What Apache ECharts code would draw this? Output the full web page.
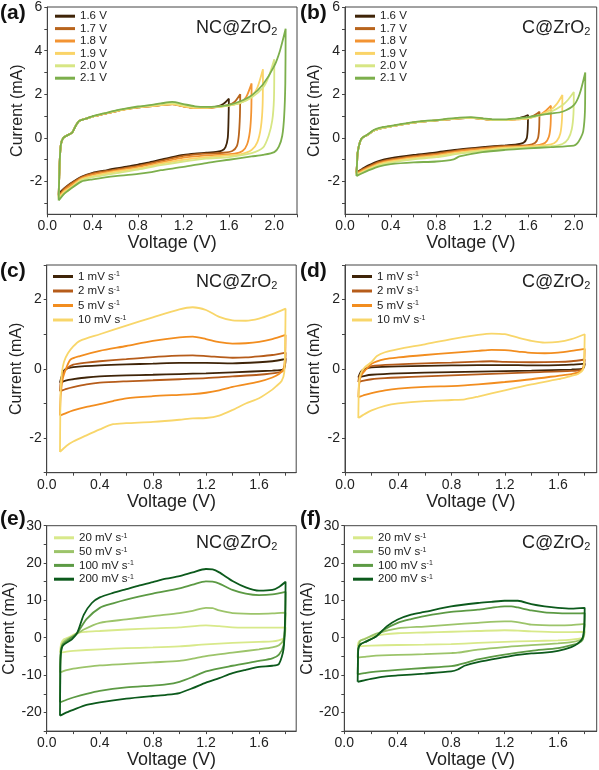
<!DOCTYPE html>
<html><head><meta charset="utf-8">
<script src="https://cdn.jsdelivr.net/npm/echarts@6/dist/echarts.min.js"></script>
<style>html,body{margin:0;padding:0;background:#fff}#c{width:599px;height:770px}</style>
</head><body><div id="c"></div>
<script>
// ---------- tick values ----------
const xLabelsAB = [0, 0.4, 0.8, 1.2, 1.6, 2.0];
const xTicksAB = [0, 0.2, 0.4, 0.6, 0.8, 1.0, 1.2, 1.4, 1.6, 1.8, 2.0, 2.2];
const xLabelsCF = [0, 0.4, 0.8, 1.2, 1.6];
const xTicksCF = [0, 0.2, 0.4, 0.6, 0.8, 1.0, 1.2, 1.4, 1.6, 1.8];
const yLabelsAB = [-2, 0, 2, 4, 6];
const yTicksAB = [-3, -2, -1, 0, 1, 2, 3, 4, 5, 6];
const yLabelsCD = [-2, 0, 2];
const yTicksCD = [-3, -2, -1, 0, 1, 2, 3];
const yLabelsEF = [-20, -10, 0, 10, 20, 30];
const yTicksEF = [-25, -20, -15, -10, -5, 0, 5, 10, 15, 20, 25, 30];

// ---------- legend names ----------
const windowNames = ['1.6 V', '1.7 V', '1.8 V', '1.9 V', '2.0 V', '2.1 V'];
const lowRates = ['1', '2', '5', '10'];
const highRates = ['20', '50', '100', '200'];
const windowColors = ['#3f2408', '#b8641c', '#f39433', '#fad468', '#d7e684', '#7caf4c'];
const lowColors = ['#3f2408', '#b65c1a', '#f28d1f', '#f8d66a'];
const highColors = ['#d8e98a', '#9cc46a', '#5c9a44', '#0c5a1c'];

// ---------- (a) NC@ZrO2, potential windows ----------
const a16 = [[0.1,-2.6],[0.105,-1.8],[0.11,-1.0],[0.12,-0.3],[0.14,0.0],[0.17,0.1],[0.2,0.18],[0.22,0.25],[0.25,0.55],[0.28,0.78],[0.35,0.9],[0.4,0.98],[0.5,1.1],[0.6,1.22],[0.7,1.33],[0.8,1.4],[0.9,1.45],[1.0,1.5],[1.1,1.55],[1.2,1.45],[1.3,1.38],[1.4,1.38],[1.5,1.45],[1.55,1.55],[1.6,1.8],[1.597,0.9],[1.59,0.0],[1.57,-0.42],[1.54,-0.58],[1.5,-0.63],[1.4,-0.68],[1.3,-0.72],[1.2,-0.78],[1.1,-0.88],[1.0,-1.0],[0.9,-1.12],[0.8,-1.22],[0.7,-1.32],[0.6,-1.4],[0.5,-1.5],[0.4,-1.6],[0.3,-1.78],[0.2,-2.1],[0.15,-2.3],[0.12,-2.45],[0.1,-2.6]];
const a17 = [[0.1,-2.65],[0.105,-1.8],[0.11,-1.0],[0.12,-0.3],[0.14,0.0],[0.17,0.1],[0.2,0.18],[0.22,0.25],[0.25,0.55],[0.28,0.78],[0.35,0.9],[0.4,0.98],[0.5,1.1],[0.6,1.22],[0.7,1.33],[0.8,1.4],[0.9,1.46],[1.0,1.52],[1.1,1.56],[1.2,1.46],[1.3,1.38],[1.4,1.38],[1.5,1.42],[1.6,1.52],[1.65,1.65],[1.7,2.0],[1.697,1.0],[1.687,0.1],[1.67,-0.38],[1.63,-0.6],[1.55,-0.68],[1.4,-0.72],[1.2,-0.82],[1.0,-1.05],[0.8,-1.28],[0.6,-1.45],[0.4,-1.62],[0.3,-1.8],[0.2,-2.12],[0.15,-2.32],[0.1,-2.65]];
const a18 = [[0.1,-2.7],[0.105,-1.8],[0.11,-1.0],[0.12,-0.3],[0.14,0.0],[0.17,0.1],[0.2,0.18],[0.22,0.25],[0.25,0.55],[0.28,0.78],[0.35,0.9],[0.4,0.98],[0.5,1.1],[0.6,1.22],[0.7,1.32],[0.8,1.4],[0.9,1.45],[1.0,1.5],[1.1,1.54],[1.2,1.44],[1.3,1.37],[1.4,1.37],[1.5,1.42],[1.6,1.5],[1.7,1.62],[1.75,1.85],[1.8,2.5],[1.797,1.2],[1.785,0.3],[1.76,-0.3],[1.72,-0.6],[1.65,-0.72],[1.5,-0.78],[1.4,-0.8],[1.2,-0.9],[1.0,-1.12],[0.8,-1.33],[0.6,-1.5],[0.4,-1.68],[0.3,-1.85],[0.2,-2.2],[0.15,-2.4],[0.1,-2.7]];
const a19 = [[0.1,-2.75],[0.105,-1.8],[0.11,-1.0],[0.12,-0.3],[0.14,0.0],[0.17,0.1],[0.2,0.18],[0.22,0.25],[0.25,0.55],[0.28,0.78],[0.35,0.9],[0.4,0.98],[0.5,1.1],[0.6,1.22],[0.7,1.32],[0.8,1.4],[0.9,1.45],[1.0,1.5],[1.1,1.55],[1.2,1.45],[1.3,1.38],[1.4,1.38],[1.5,1.42],[1.6,1.48],[1.7,1.6],[1.8,1.9],[1.85,2.3],[1.9,3.15],[1.897,1.5],[1.882,0.5],[1.85,-0.2],[1.8,-0.55],[1.7,-0.75],[1.6,-0.8],[1.4,-0.88],[1.2,-1.0],[1.0,-1.18],[0.8,-1.4],[0.6,-1.55],[0.4,-1.75],[0.3,-1.9],[0.2,-2.28],[0.15,-2.45],[0.1,-2.75]];
const a20 = [[0.1,-2.8],[0.105,-1.8],[0.11,-1.0],[0.12,-0.3],[0.14,0.0],[0.17,0.1],[0.2,0.18],[0.22,0.25],[0.25,0.55],[0.28,0.78],[0.35,0.9],[0.4,0.98],[0.5,1.12],[0.6,1.24],[0.7,1.34],[0.8,1.42],[0.9,1.48],[1.0,1.55],[1.1,1.6],[1.2,1.5],[1.3,1.42],[1.4,1.4],[1.5,1.42],[1.6,1.48],[1.7,1.6],[1.8,1.85],[1.9,2.3],[1.95,2.8],[2.0,3.6],[1.997,1.8],[1.982,0.8],[1.95,0.1],[1.9,-0.45],[1.8,-0.7],[1.6,-0.88],[1.4,-0.95],[1.2,-1.08],[1.0,-1.25],[0.8,-1.45],[0.6,-1.62],[0.4,-1.8],[0.3,-1.95],[0.2,-2.35],[0.15,-2.55],[0.1,-2.8]];
const a21 = [[0.1,-2.87],[0.105,-1.8],[0.11,-1.0],[0.12,-0.3],[0.14,0.0],[0.17,0.1],[0.2,0.18],[0.22,0.25],[0.25,0.55],[0.28,0.78],[0.35,0.9],[0.4,1.0],[0.5,1.12],[0.6,1.25],[0.7,1.35],[0.8,1.44],[0.9,1.5],[1.0,1.58],[1.1,1.65],[1.2,1.55],[1.3,1.45],[1.4,1.42],[1.5,1.45],[1.6,1.52],[1.7,1.68],[1.8,1.95],[1.9,2.45],[2.0,3.3],[2.05,4.0],[2.1,5.0],[2.097,2.5],[2.087,1.0],[2.07,0.1],[2.04,-0.4],[2.0,-0.65],[1.9,-0.78],[1.8,-0.85],[1.6,-1.0],[1.4,-1.15],[1.2,-1.33],[1.0,-1.48],[0.9,-1.58],[0.8,-1.65],[0.6,-1.75],[0.4,-1.9],[0.3,-2.0],[0.2,-2.35],[0.15,-2.55],[0.1,-2.87]];

// ---------- (b) C@ZrO2, potential windows ----------
const b16 = [[0.1,-1.58],[0.105,-1.2],[0.11,-0.7],[0.13,-0.2],[0.15,0.0],[0.2,0.15],[0.25,0.33],[0.3,0.43],[0.4,0.53],[0.5,0.62],[0.6,0.7],[0.7,0.76],[0.8,0.8],[0.9,0.85],[1.0,0.9],[1.1,0.92],[1.2,0.88],[1.3,0.82],[1.4,0.82],[1.5,0.88],[1.55,0.95],[1.6,1.05],[1.597,0.4],[1.588,-0.02],[1.56,-0.22],[1.5,-0.3],[1.4,-0.34],[1.2,-0.42],[1.0,-0.52],[0.8,-0.66],[0.6,-0.78],[0.4,-0.93],[0.3,-1.05],[0.2,-1.27],[0.15,-1.42],[0.1,-1.58]];
const b17 = [[0.1,-1.6],[0.105,-1.2],[0.11,-0.7],[0.13,-0.2],[0.15,0.0],[0.2,0.15],[0.25,0.33],[0.3,0.43],[0.4,0.53],[0.5,0.62],[0.6,0.7],[0.7,0.76],[0.8,0.8],[0.9,0.85],[1.0,0.9],[1.1,0.92],[1.2,0.88],[1.3,0.82],[1.4,0.82],[1.5,0.86],[1.6,0.92],[1.65,1.02],[1.7,1.2],[1.697,0.45],[1.687,0.0],[1.66,-0.23],[1.6,-0.33],[1.4,-0.37],[1.2,-0.46],[1.0,-0.56],[0.8,-0.72],[0.6,-0.83],[0.4,-0.98],[0.3,-1.1],[0.2,-1.32],[0.15,-1.45],[0.1,-1.6]];
const b18 = [[0.1,-1.63],[0.105,-1.2],[0.11,-0.7],[0.13,-0.2],[0.15,0.0],[0.2,0.15],[0.25,0.33],[0.3,0.43],[0.4,0.53],[0.5,0.62],[0.6,0.7],[0.7,0.76],[0.8,0.8],[0.9,0.85],[1.0,0.9],[1.1,0.92],[1.2,0.87],[1.3,0.82],[1.4,0.82],[1.5,0.85],[1.6,0.9],[1.7,1.05],[1.75,1.22],[1.8,1.48],[1.797,0.6],[1.782,0.05],[1.75,-0.22],[1.7,-0.32],[1.6,-0.37],[1.4,-0.42],[1.2,-0.5],[1.0,-0.6],[0.8,-0.77],[0.6,-0.88],[0.4,-1.03],[0.3,-1.15],[0.2,-1.37],[0.15,-1.5],[0.1,-1.63]];
const b19 = [[0.1,-1.66],[0.105,-1.2],[0.11,-0.7],[0.13,-0.2],[0.15,0.0],[0.2,0.15],[0.25,0.33],[0.3,0.43],[0.4,0.53],[0.5,0.62],[0.6,0.7],[0.7,0.76],[0.8,0.8],[0.9,0.85],[1.0,0.9],[1.1,0.92],[1.2,0.87],[1.3,0.82],[1.4,0.82],[1.5,0.85],[1.6,0.9],[1.7,1.05],[1.8,1.3],[1.85,1.55],[1.9,1.97],[1.897,0.9],[1.882,0.2],[1.85,-0.15],[1.8,-0.3],[1.6,-0.4],[1.4,-0.45],[1.2,-0.55],[1.0,-0.66],[0.8,-0.82],[0.6,-0.93],[0.4,-1.08],[0.3,-1.2],[0.2,-1.42],[0.15,-1.55],[0.1,-1.66]];
const b20 = [[0.1,-1.7],[0.105,-1.2],[0.11,-0.7],[0.13,-0.2],[0.15,0.0],[0.2,0.15],[0.25,0.33],[0.3,0.43],[0.4,0.53],[0.5,0.62],[0.6,0.7],[0.7,0.76],[0.8,0.8],[0.9,0.86],[1.0,0.91],[1.1,0.93],[1.2,0.88],[1.3,0.83],[1.4,0.83],[1.5,0.87],[1.6,0.92],[1.7,1.02],[1.8,1.2],[1.9,1.5],[1.95,1.75],[2.0,2.1],[1.997,1.1],[1.982,0.4],[1.95,-0.05],[1.9,-0.28],[1.8,-0.38],[1.6,-0.45],[1.4,-0.5],[1.2,-0.6],[1.0,-0.72],[0.8,-0.88],[0.6,-0.98],[0.4,-1.13],[0.3,-1.25],[0.2,-1.47],[0.15,-1.6],[0.1,-1.7]];
const b21 = [[0.1,-1.75],[0.105,-1.2],[0.11,-0.7],[0.13,-0.2],[0.15,0.0],[0.2,0.17],[0.25,0.36],[0.3,0.46],[0.4,0.55],[0.5,0.64],[0.6,0.72],[0.7,0.78],[0.8,0.82],[0.9,0.88],[1.0,0.93],[1.1,0.95],[1.2,0.9],[1.3,0.85],[1.4,0.85],[1.5,0.9],[1.6,0.95],[1.7,1.05],[1.8,1.12],[1.9,1.2],[2.0,1.5],[2.05,2.0],[2.1,3.0],[2.097,1.2],[2.082,0.3],[2.06,0.0],[2.03,-0.25],[2.0,-0.35],[1.8,-0.42],[1.6,-0.48],[1.4,-0.55],[1.2,-0.65],[1.0,-0.85],[0.95,-0.98],[0.8,-1.08],[0.6,-1.12],[0.4,-1.2],[0.3,-1.3],[0.2,-1.5],[0.15,-1.62],[0.1,-1.75]];

// ---------- (c) NC@ZrO2, 1-10 mV/s ----------
const c1 = [[0.1,-0.4],[0.11,-0.25],[0.13,-0.05],[0.16,0.02],[0.2,0.05],[0.4,0.1],[0.6,0.13],[0.8,0.15],[1.0,0.17],[1.2,0.17],[1.4,0.16],[1.6,0.19],[1.7,0.22],[1.78,0.27],[1.8,0.3],[1.795,0.1],[1.78,-0.02],[1.7,-0.05],[1.4,-0.1],[1.2,-0.13],[1.0,-0.15],[0.8,-0.17],[0.6,-0.19],[0.4,-0.22],[0.3,-0.25],[0.2,-0.3],[0.15,-0.33],[0.1,-0.4]];
const c2 = [[0.1,-0.65],[0.105,-0.4],[0.12,-0.15],[0.15,0.0],[0.2,0.12],[0.3,0.18],[0.4,0.22],[0.6,0.28],[0.8,0.34],[1.0,0.38],[1.1,0.39],[1.2,0.37],[1.4,0.32],[1.5,0.33],[1.6,0.36],[1.7,0.4],[1.8,0.47],[1.797,0.15],[1.785,-0.05],[1.75,-0.1],[1.6,-0.17],[1.4,-0.22],[1.2,-0.27],[1.0,-0.3],[0.8,-0.33],[0.6,-0.36],[0.4,-0.4],[0.3,-0.45],[0.2,-0.53],[0.15,-0.58],[0.1,-0.65]];
const c5 = [[0.1,-1.35],[0.105,-0.8],[0.12,-0.3],[0.15,0.05],[0.18,0.27],[0.25,0.37],[0.4,0.52],[0.6,0.66],[0.8,0.81],[1.0,0.91],[1.1,0.93],[1.2,0.86],[1.3,0.77],[1.4,0.73],[1.5,0.74],[1.6,0.78],[1.7,0.86],[1.8,0.98],[1.797,0.4],[1.785,0.0],[1.75,-0.15],[1.7,-0.25],[1.6,-0.37],[1.4,-0.52],[1.3,-0.62],[1.2,-0.69],[1.1,-0.73],[1.0,-0.75],[0.8,-0.79],[0.6,-0.85],[0.5,-0.93],[0.4,-1.02],[0.3,-1.1],[0.2,-1.2],[0.15,-1.27],[0.1,-1.35]];
const c10 = [[0.1,-2.4],[0.102,-1.5],[0.105,-0.6],[0.115,-0.1],[0.13,0.2],[0.16,0.45],[0.2,0.65],[0.25,0.81],[0.4,1.0],[0.6,1.25],[0.8,1.49],[1.0,1.72],[1.1,1.78],[1.2,1.7],[1.3,1.5],[1.4,1.4],[1.5,1.39],[1.6,1.45],[1.7,1.58],[1.8,1.74],[1.797,0.8],[1.79,-0.1],[1.77,-0.35],[1.73,-0.5],[1.7,-0.6],[1.6,-0.85],[1.5,-1.0],[1.4,-1.19],[1.3,-1.35],[1.2,-1.42],[1.1,-1.43],[1.0,-1.47],[0.8,-1.53],[0.6,-1.57],[0.5,-1.6],[0.4,-1.75],[0.3,-1.92],[0.2,-2.1],[0.15,-2.22],[0.1,-2.4]];

// ---------- (d) C@ZrO2, 1-10 mV/s ----------
const d1 = [[0.1,-0.25],[0.12,-0.08],[0.15,0.0],[0.2,0.04],[0.4,0.07],[0.8,0.1],[1.0,0.11],[1.2,0.11],[1.4,0.1],[1.6,0.11],[1.7,0.12],[1.8,0.15],[1.795,0.05],[1.78,0.0],[1.7,-0.02],[1.4,-0.05],[1.0,-0.08],[0.6,-0.11],[0.4,-0.13],[0.2,-0.17],[0.15,-0.2],[0.1,-0.25]];
const d2 = [[0.1,-0.38],[0.11,-0.2],[0.15,-0.03],[0.2,0.08],[0.4,0.13],[0.6,0.16],[0.8,0.18],[1.0,0.21],[1.1,0.22],[1.2,0.2],[1.4,0.19],[1.6,0.2],[1.7,0.22],[1.8,0.27],[1.795,0.08],[1.78,-0.02],[1.7,-0.06],[1.4,-0.1],[1.2,-0.13],[1.0,-0.16],[0.8,-0.19],[0.6,-0.22],[0.4,-0.25],[0.3,-0.27],[0.2,-0.3],[0.15,-0.33],[0.1,-0.38]];
const d5 = [[0.1,-0.82],[0.105,-0.5],[0.12,-0.2],[0.15,-0.05],[0.2,0.15],[0.3,0.28],[0.4,0.33],[0.6,0.4],[0.8,0.46],[1.0,0.52],[1.1,0.55],[1.2,0.54],[1.3,0.5],[1.4,0.46],[1.5,0.45],[1.6,0.47],[1.7,0.52],[1.8,0.58],[1.797,0.25],[1.785,0.0],[1.75,-0.1],[1.7,-0.15],[1.6,-0.2],[1.4,-0.3],[1.2,-0.38],[1.0,-0.45],[0.9,-0.48],[0.8,-0.5],[0.6,-0.52],[0.4,-0.57],[0.3,-0.62],[0.2,-0.7],[0.15,-0.75],[0.1,-0.82]];
const d10 = [[0.1,-1.42],[0.102,-0.9],[0.105,-0.4],[0.12,-0.12],[0.15,0.05],[0.2,0.2],[0.24,0.37],[0.3,0.48],[0.4,0.57],[0.6,0.71],[0.8,0.86],[1.0,0.98],[1.1,1.02],[1.2,1.0],[1.3,0.9],[1.4,0.81],[1.5,0.76],[1.6,0.78],[1.7,0.86],[1.8,1.0],[1.797,0.4],[1.79,0.0],[1.75,-0.15],[1.7,-0.2],[1.6,-0.3],[1.4,-0.45],[1.2,-0.62],[1.0,-0.8],[0.9,-0.88],[0.8,-0.9],[0.6,-0.93],[0.4,-1.0],[0.3,-1.07],[0.2,-1.2],[0.15,-1.3],[0.1,-1.42]];

// ---------- (e) NC@ZrO2, 20-200 mV/s ----------
const e20 = [[0.1,-4.0],[0.11,-1.5],[0.13,-0.4],[0.17,0.2],[0.23,1.3],[0.3,1.6],[0.4,1.8],[0.6,2.2],[0.8,2.5],[1.0,2.8],[1.2,3.3],[1.3,3.1],[1.4,2.8],[1.6,2.7],[1.7,2.7],[1.8,2.8],[1.795,0.8],[1.78,-0.3],[1.7,-1.0],[1.6,-1.1],[1.4,-1.4],[1.2,-1.8],[1.0,-2.3],[0.8,-2.6],[0.6,-2.8],[0.4,-3.1],[0.2,-3.5],[0.15,-3.7],[0.1,-4.0]];
const e50 = [[0.1,-9.3],[0.105,-5],[0.12,-1.5],[0.15,-0.5],[0.2,0.4],[0.28,2.2],[0.4,4.0],[0.6,4.9],[0.8,5.8],[1.0,6.6],[1.1,7.2],[1.2,8.0],[1.25,7.9],[1.3,7.3],[1.4,6.6],[1.6,6.4],[1.7,6.5],[1.8,6.7],[1.797,3],[1.785,-0.5],[1.75,-2.0],[1.7,-2.6],[1.6,-3.1],[1.4,-4.0],[1.2,-4.9],[1.1,-5.6],[1.0,-6.2],[0.8,-6.6],[0.6,-7.0],[0.4,-7.4],[0.3,-7.8],[0.2,-8.3],[0.15,-8.7],[0.1,-9.3]];
const e100 = [[0.1,-17.3],[0.102,-10],[0.105,-4],[0.12,-1.8],[0.17,-0.4],[0.23,1.3],[0.3,5.0],[0.4,8.0],[0.5,9.2],[0.6,10.2],[0.8,11.8],[1.0,13.2],[1.1,14.2],[1.2,15.1],[1.25,15.0],[1.3,14.5],[1.4,12.8],[1.5,11.8],[1.6,11.4],[1.7,11.6],[1.8,12.3],[1.797,5],[1.785,-2],[1.75,-4.5],[1.7,-5.5],[1.6,-6.2],[1.4,-7.5],[1.2,-9.0],[1.1,-10.5],[1.0,-11.8],[0.9,-12.5],[0.8,-12.8],[0.6,-13.3],[0.4,-14.2],[0.3,-15.0],[0.2,-16.0],[0.15,-16.6],[0.1,-17.3]];
const e200 = [[0.1,-20.9],[0.102,-12],[0.105,-5],[0.12,-2.2],[0.19,-0.4],[0.23,1.3],[0.28,6.2],[0.34,9.3],[0.4,10.8],[0.5,12.0],[0.6,13.0],[0.7,14.0],[0.8,14.9],[0.9,15.8],[1.0,16.5],[1.1,17.5],[1.2,18.4],[1.25,18.3],[1.3,17.5],[1.4,15.2],[1.5,13.5],[1.6,12.6],[1.7,12.8],[1.75,13.6],[1.8,15.0],[1.797,6],[1.785,-3],[1.75,-7.0],[1.7,-7.5],[1.6,-7.8],[1.5,-8.6],[1.4,-9.5],[1.3,-10.8],[1.2,-12.0],[1.1,-13.5],[1.0,-14.8],[0.9,-15.3],[0.8,-15.6],[0.6,-16.3],[0.4,-17.3],[0.3,-18.0],[0.2,-19.3],[0.15,-20.0],[0.1,-20.9]];

// ---------- (f) C@ZrO2, 20-200 mV/s ----------
const f20 = [[0.1,-2.3],[0.11,-1.0],[0.15,-0.3],[0.2,0.3],[0.3,0.9],[0.4,1.2],[0.6,1.4],[0.8,1.6],[1.0,1.8],[1.2,2.0],[1.3,1.9],[1.4,1.7],[1.6,1.5],[1.7,1.5],[1.8,1.6],[1.795,0.5],[1.78,-0.1],[1.7,-0.5],[1.6,-0.7],[1.4,-0.9],[1.2,-1.1],[1.0,-1.4],[0.8,-1.7],[0.6,-1.85],[0.4,-1.95],[0.2,-2.1],[0.1,-2.3]];
const f50 = [[0.1,-5.3],[0.105,-2.5],[0.12,-0.8],[0.15,-0.4],[0.24,1.1],[0.4,2.5],[0.6,3.0],[0.8,3.5],[1.0,4.0],[1.2,4.4],[1.25,4.4],[1.4,3.5],[1.6,3.3],[1.7,3.4],[1.8,3.7],[1.797,1.5],[1.785,-0.3],[1.7,-1.2],[1.6,-1.5],[1.4,-2.0],[1.2,-2.5],[1.0,-3.2],[0.85,-4.0],[0.8,-4.1],[0.6,-4.4],[0.4,-4.6],[0.2,-4.9],[0.15,-5.1],[0.1,-5.3]];
const f100 = [[0.1,-9.8],[0.102,-6],[0.105,-3],[0.12,-1.8],[0.17,-0.9],[0.24,0.4],[0.3,2.2],[0.4,4.0],[0.5,5.0],[0.6,5.8],[0.8,6.9],[1.0,7.5],[1.1,8.0],[1.2,8.4],[1.25,8.4],[1.3,8.1],[1.4,7.3],[1.5,6.8],[1.6,6.6],[1.7,6.5],[1.8,6.6],[1.797,3],[1.785,-0.5],[1.75,-1.5],[1.7,-2.0],[1.6,-2.8],[1.4,-3.5],[1.2,-4.5],[1.0,-5.8],[0.9,-6.8],[0.85,-7.3],[0.8,-7.6],[0.6,-8.1],[0.4,-8.6],[0.2,-9.2],[0.15,-9.5],[0.1,-9.8]];
const f200 = [[0.1,-11.8],[0.102,-7],[0.105,-3],[0.12,-1.8],[0.17,-0.9],[0.24,0.4],[0.32,3.1],[0.4,4.9],[0.5,6.2],[0.6,6.9],[0.8,8.4],[1.0,9.3],[1.1,9.6],[1.2,9.9],[1.3,9.9],[1.4,9.0],[1.5,8.4],[1.6,8.0],[1.7,7.8],[1.8,8.0],[1.797,3],[1.785,0.0],[1.75,-1.5],[1.7,-2.5],[1.6,-3.5],[1.5,-4.0],[1.4,-4.2],[1.3,-4.6],[1.2,-5.2],[1.0,-6.5],[0.9,-7.5],[0.85,-8.5],[0.8,-9.0],[0.6,-9.6],[0.4,-10.1],[0.3,-10.4],[0.2,-11.0],[0.15,-11.4],[0.1,-11.8]];

// ---------- assembly ----------
const FN = "'Liberation Sans Narrow','Arial Narrow','Liberation Sans',Arial,sans-serif";
const FR = "'Liberation Sans',Arial,sans-serif";
const AX = '#444';

const panels = [
  {id:'a', label:'(a)', mat:'NC@ZrO', grid:{left:47.3, top:6.7, width:249.7, height:207.6}, xMax:2.2, yMin:-3.5, yMax:6,
   xL:xLabelsAB, xT:xTicksAB, yL:yLabelsAB, yT:yTicksAB, names:windowNames, colors:windowColors, data:[a16,a17,a18,a19,a20,a21], rate:false,
   legend:{left:55, top:10.2, gap:0.4}, matPos:{left:196, top:20}, labPos:{left:0, top:3}},
  {id:'b', label:'(b)', mat:'C@ZrO', grid:{left:345, top:6.7, width:251.7, height:207.6}, xMax:2.2, yMin:-3.5, yMax:6,
   xL:xLabelsAB, xT:xTicksAB, yL:yLabelsAB, yT:yTicksAB, names:windowNames, colors:windowColors, data:[b16,b17,b18,b19,b20,b21], rate:false,
   legend:{left:355, top:10.2, gap:0.4}, matPos:{left:522, top:20}, labPos:{left:300, top:3}},
  {id:'c', label:'(c)', mat:'NC@ZrO', grid:{left:46.7, top:265, width:249.5, height:207.7}, xMax:1.88, yMin:-3, yMax:3,
   xL:xLabelsCF, xT:xTicksCF, yL:yLabelsCD, yT:yTicksCD, names:lowRates, colors:lowColors, data:[c1,c2,c5,c10], rate:true,
   legend:{left:53, top:270.5, gap:2.5}, matPos:{left:196, top:274}, labPos:{left:0, top:261}},
  {id:'d', label:'(d)', mat:'C@ZrO', grid:{left:345, top:265, width:251.7, height:207.7}, xMax:1.89, yMin:-3, yMax:3,
   xL:xLabelsCF, xT:xTicksCF, yL:yLabelsCD, yT:yTicksCD, names:lowRates, colors:lowColors, data:[d1,d2,d5,d10], rate:true,
   legend:{left:352, top:270.5, gap:2.5}, matPos:{left:522, top:274}, labPos:{left:300, top:261}},
  {id:'e', label:'(e)', mat:'NC@ZrO', grid:{left:46.7, top:525.7, width:249.5, height:206}, xMax:1.88, yMin:-25, yMax:30,
   xL:xLabelsCF, xT:xTicksCF, yL:yLabelsEF, yT:yTicksEF, names:highRates, colors:highColors, data:[e20,e50,e100,e200], rate:true,
   legend:{left:54, top:531.8, gap:1.8}, matPos:{left:196, top:535}, labPos:{left:0, top:509}},
  {id:'f', label:'(f)', mat:'C@ZrO', grid:{left:344.3, top:525.7, width:252.4, height:206}, xMax:1.89, yMin:-25, yMax:30,
   xL:xLabelsCF, xT:xTicksCF, yL:yLabelsEF, yT:yTicksEF, names:highRates, colors:highColors, data:[f20,f50,f100,f200], rate:true,
   legend:{left:353, top:531.8, gap:1.8}, matPos:{left:522, top:535}, labPos:{left:300, top:509}}
];

const option = {animation:false, grid:[], xAxis:[], yAxis:[], series:[], legend:[], title:[]};
panels.forEach((p, i) => {
  option.grid.push(Object.assign({show:true, borderColor:AX, borderWidth:1, backgroundColor:'transparent'}, p.grid));
  option.xAxis.push({
    type:'value', gridIndex:i, min:0, max:p.xMax, splitLine:{show:false},
    axisLine:{show:true, onZero:false, lineStyle:{color:AX, width:1}},
    axisTick:{show:true, inside:false, length:3, lineStyle:{color:AX}, customValues:p.xT},
    axisLabel:{customValues:p.xL, margin:5, fontFamily:FN, fontSize:14, color:'#222', formatter:v => v.toFixed(1)},
    name:'Voltage (V)', nameLocation:'middle', nameGap:17,
    nameTextStyle:{fontFamily:FN, fontSize:18, color:'#222'}
  });
  option.yAxis.push({
    type:'value', gridIndex:i, min:p.yMin, max:p.yMax, splitLine:{show:false},
    axisLine:{show:true, onZero:false, lineStyle:{color:AX, width:1}},
    axisTick:{show:true, inside:false, length:3, lineStyle:{color:AX}, customValues:p.yT},
    axisLabel:{customValues:p.yL, margin:5, fontFamily:FN, fontSize:14, color:'#222', formatter:v => String(v)},
    name:'Current (mA)', nameLocation:'middle', nameGap:(p.id==='e'||p.id==='f') ? 23 : 22,
    nameTextStyle:{fontFamily:FR, fontSize:16, color:'#222'}
  });
  const legendData = [];
  p.data.forEach((d, k) => {
    const nm = p.id + ':' + p.names[k];
    legendData.push(nm);
    option.series.push({
      type:'line', name:nm, xAxisIndex:i, yAxisIndex:i, data:d, showSymbol:false, symbol:'none',
      smooth:0.25, color:p.colors[k], lineStyle:{width:1.8, color:p.colors[k]}, itemStyle:{color:p.colors[k]}, silent:true
    });
  });
  option.legend.push({
    data:legendData, orient:'vertical', left:p.legend.left, top:p.legend.top, itemGap:p.legend.gap,
    itemWidth:20, itemHeight:3, icon:'rect', selectedMode:false, padding:0,
    formatter: n => { const t = n.slice(2); return p.rate ? (t + ' mV s{sup|-1}') : t; },
    textStyle:{fontFamily:FN, fontSize:11.5, lineHeight:11, color:'#222',
      rich:{sup:{fontFamily:FN, fontSize:7, lineHeight:5, verticalAlign:'top', color:'#222'}}}
  });
  option.title.push({text:p.label, left:p.labPos.left, top:p.labPos.top, padding:0,
    textStyle:{fontFamily:FR, fontSize:21, fontWeight:'bold', color:'#111'}});
  option.title.push({text:p.mat + '{sub|2}', left:p.matPos.left, top:p.matPos.top, padding:0,
    textStyle:{fontFamily:FN, fontSize:18, lineHeight:17, fontWeight:'normal', color:'#222',
      rich:{sub:{fontFamily:FN, fontSize:11, lineHeight:6, verticalAlign:'bottom', color:'#222'}}}});
});

const chart = echarts.init(document.getElementById('c'), null, {renderer:'canvas'});
chart.setOption(option);
</script>
</body></html>
